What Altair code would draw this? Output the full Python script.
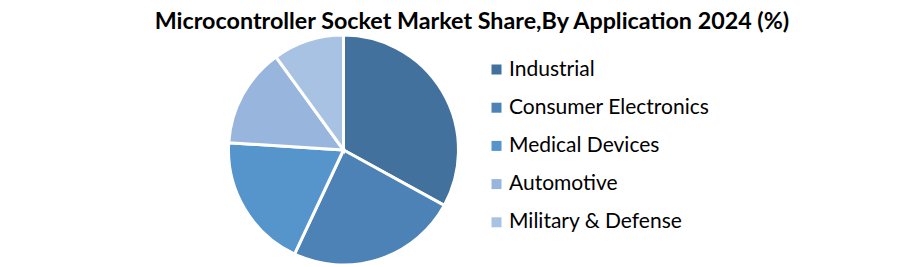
import altair as alt
import pandas as pd

categories = ["Industrial", "Consumer Electronics", "Medical Devices", "Automotive", "Military & Defense"]
shares = [33, 24, 19, 14, 10]
colors = ["#41719C", "#4C82B5", "#5694CC", "#98B6DD", "#A8C2E4"]

df = pd.DataFrame({"Application": categories, "Share": shares, "idx": list(range(len(categories)))})

pie = alt.Chart(df).mark_arc(
    outerRadius=115, stroke="white", strokeWidth=3
).encode(
    theta=alt.Theta("Share:Q", stack=True),
    order=alt.Order("idx:O", sort="ascending"),
    color=alt.Color(
        "Application:N",
        scale=alt.Scale(domain=categories, range=colors),
        sort=categories,
        legend=alt.Legend(
            title=None,
            orient="none",
            legendX=486,
            legendY=15,
            symbolType="square",
            symbolSize=100,
            symbolStrokeWidth=0,
            labelFont="Lato",
            labelFontSize=21,
            labelColor="#000000",
            labelOffset=2,
            rowPadding=16.2,
            labelLimit=400,
        ),
    ),
    x=alt.value(343.5),
    y=alt.value(106),
)

chart = pie.properties(
    width=912,
    height=223,
    padding={"top": 44, "left": 0, "right": 0, "bottom": 0},
    autosize=alt.AutoSizeParams(type="none"),
    title=alt.TitleParams(
        "Microcontroller Socket Market Share,By Application  2024 (%)",
        font="Lato",
        fontSize=23.3,
        fontWeight="bold",
        color="#000000",
        anchor="middle",
        offset=8,
        dx=16,
        dy=13,
    ),
).configure(background="white").configure_view(stroke=None)

chart.save("out.html", embed_options={"renderer": "svg", "actions": False})
